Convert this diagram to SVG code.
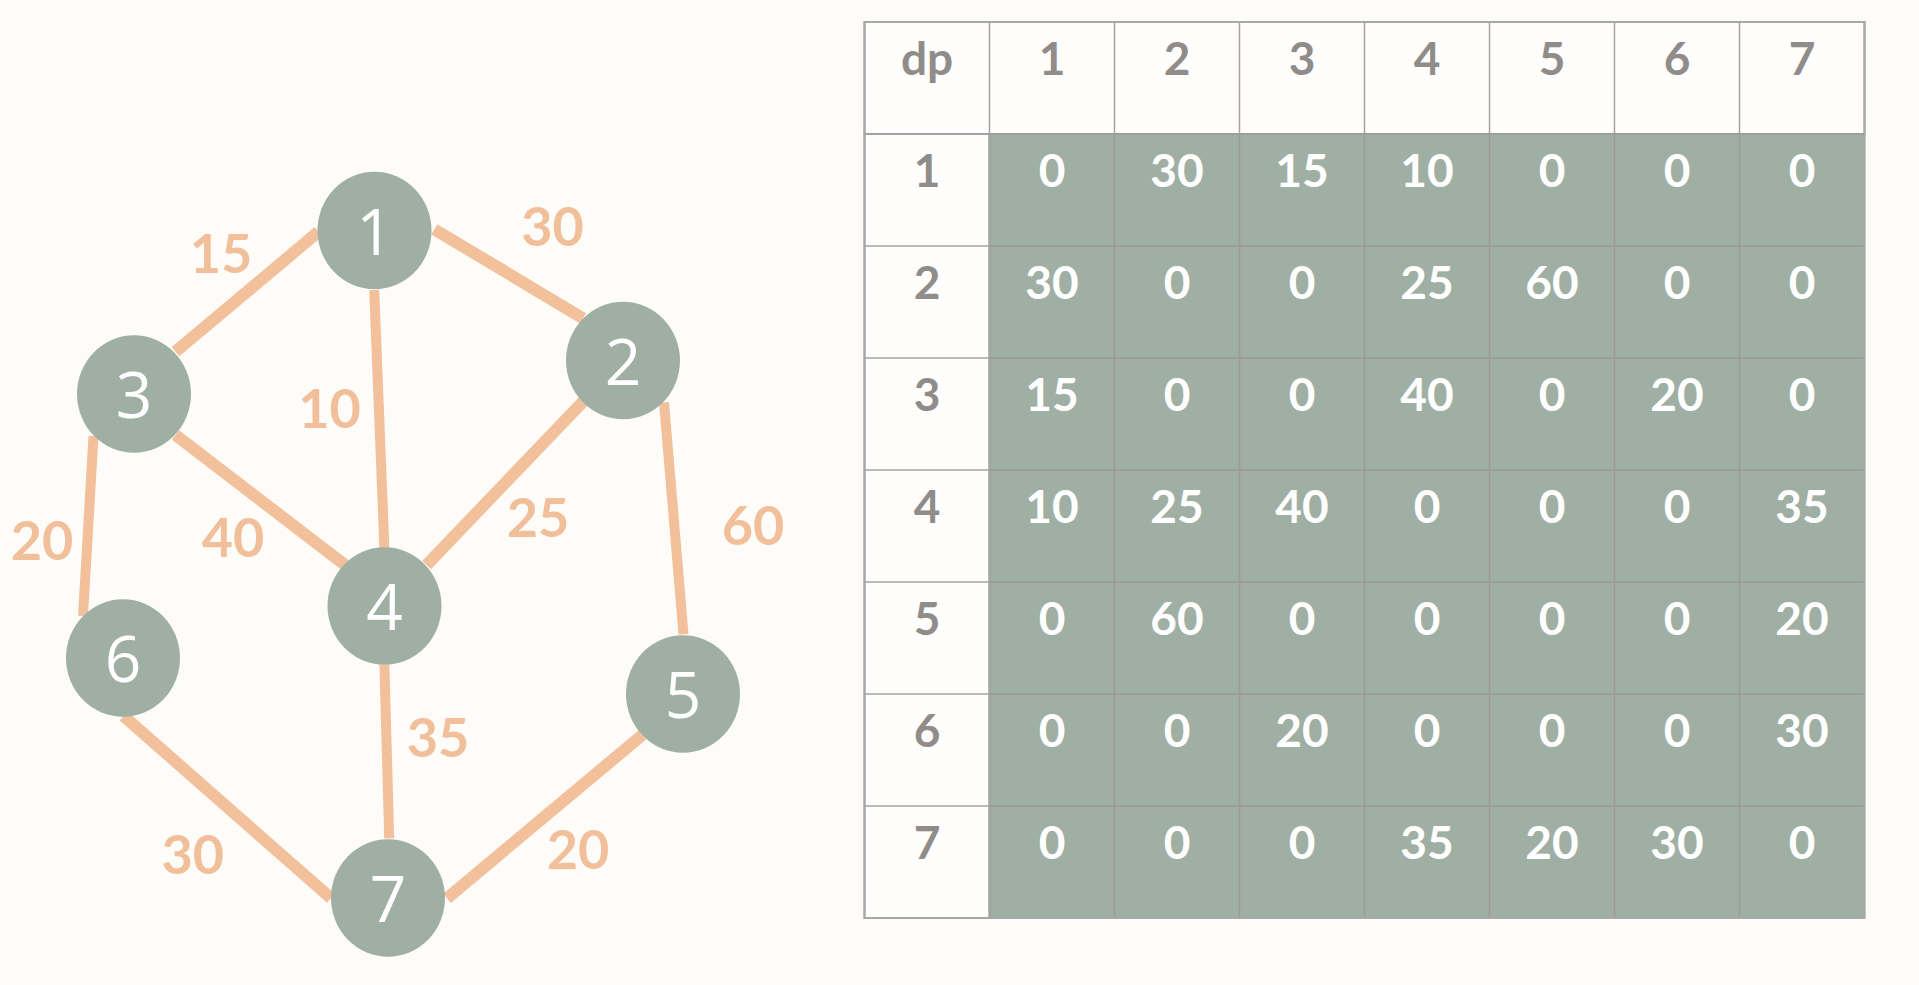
<svg xmlns="http://www.w3.org/2000/svg" width="1919" height="985" viewBox="0 0 1919 985">
<style>
.edge{stroke:#f2c19c;stroke-width:10;stroke-linecap:butt;fill:none}
.diag{stroke-width:12}
.node{fill:#a0afa4}
.nlab{font-family:"Open Sans","DejaVu Sans",sans-serif;font-size:64px;fill:#ffffff;text-anchor:middle}
.elab{font-family:Lato,"DejaVu Sans",sans-serif;font-weight:700;font-size:54px;fill:#f1c09b;text-anchor:middle}
.hd{fill:#fffefc;stroke:#a3a3a3;stroke-width:2}
.cell{fill:#a0afa4;stroke:#999a99;stroke-width:1.5}
.ht{font-family:Lato,"DejaVu Sans",sans-serif;font-weight:700;font-size:46px;fill:#8f8c89;text-anchor:middle}
.ct{font-family:Lato,"DejaVu Sans",sans-serif;font-weight:700;font-size:46px;fill:#ffffff;text-anchor:middle}
</style>
<rect width="1919" height="985" fill="#fdfcf9"/>
<g id="connectors">
<line class="edge diag" x1="318.5" y1="231.7" x2="175.5" y2="351.7"/>
<line class="edge diag" x1="434.3" y1="229.3" x2="583" y2="318.3"/>
<line class="edge" x1="374.2" y1="290" x2="384.4" y2="548"/>
<line class="edge diag" x1="175.5" y1="435" x2="345" y2="565"/>
<line class="edge diag" x1="584" y1="400.7" x2="426.6" y2="565"/>
<line class="edge" x1="93.5" y1="436" x2="83" y2="616"/>
<line class="edge" x1="664" y1="402.3" x2="683.5" y2="634.3"/>
<line class="edge" x1="384.4" y1="664.7" x2="389.2" y2="838.3"/>
<line class="edge diag" x1="123.6" y1="716" x2="331" y2="898.3"/>
<line class="edge diag" x1="642.3" y1="735" x2="447" y2="898.3"/>
</g>
<g id="edge-labels">
<text class="elab" x="221" y="273">15</text>
<text class="elab" x="552.5" y="246">30</text>
<text class="elab" x="329.6" y="428">10</text>
<text class="elab" x="42" y="560">20</text>
<text class="elab" x="233" y="557">40</text>
<text class="elab" x="538" y="537">25</text>
<text class="elab" x="753" y="545">60</text>
<text class="elab" x="438" y="757">35</text>
<text class="elab" x="192.7" y="874">30</text>
<text class="elab" x="578" y="869">20</text>
</g>
<g id="node1"><ellipse class="node" cx="374.5" cy="230.5" rx="57" ry="58.8"/><text class="nlab" x="374.5" y="254.5">1</text></g>
<g id="node2"><ellipse class="node" cx="623" cy="360.5" rx="57" ry="58.8"/><text class="nlab" x="623" y="384.5">2</text></g>
<g id="node3"><ellipse class="node" cx="134" cy="394" rx="57" ry="58.8"/><text class="nlab" x="134" y="418">3</text></g>
<g id="node4"><ellipse class="node" cx="384.5" cy="606" rx="57" ry="58.8"/><text class="nlab" x="384.5" y="630">4</text></g>
<g id="node5"><ellipse class="node" cx="683" cy="694" rx="57" ry="58.8"/><text class="nlab" x="683" y="718">5</text></g>
<g id="node6"><ellipse class="node" cx="123" cy="658" rx="57" ry="58.8"/><text class="nlab" x="123" y="682">6</text></g>
<g id="node7"><ellipse class="node" cx="388" cy="898" rx="57" ry="58.8"/><text class="nlab" x="388" y="922">7</text></g>
<g id="table">
<rect class="hd" x="864.5" y="22" width="1000" height="112"/>
<rect class="hd" x="864.5" y="134" width="125" height="784"/>
<rect class="cell" x="989.5" y="134" width="875" height="784"/>
<g stroke="#a3a3a3" stroke-width="1.5">
<line x1="989.5" y1="22" x2="989.5" y2="918"/>
<line x1="1114.5" y1="22" x2="1114.5" y2="134"/>
<line x1="1239.5" y1="22" x2="1239.5" y2="134"/>
<line x1="1364.5" y1="22" x2="1364.5" y2="134"/>
<line x1="1489.5" y1="22" x2="1489.5" y2="134"/>
<line x1="1614.5" y1="22" x2="1614.5" y2="134"/>
<line x1="1739.5" y1="22" x2="1739.5" y2="134"/>
<line x1="864.5" y1="246" x2="989.5" y2="246"/>
<line x1="864.5" y1="358" x2="989.5" y2="358"/>
<line x1="864.5" y1="470" x2="989.5" y2="470"/>
<line x1="864.5" y1="582" x2="989.5" y2="582"/>
<line x1="864.5" y1="694" x2="989.5" y2="694"/>
<line x1="864.5" y1="806" x2="989.5" y2="806"/>
</g>
<g stroke="#999a99" stroke-width="1.5">
<line x1="1114.5" y1="134" x2="1114.5" y2="918"/>
<line x1="1239.5" y1="134" x2="1239.5" y2="918"/>
<line x1="1364.5" y1="134" x2="1364.5" y2="918"/>
<line x1="1489.5" y1="134" x2="1489.5" y2="918"/>
<line x1="1614.5" y1="134" x2="1614.5" y2="918"/>
<line x1="1739.5" y1="134" x2="1739.5" y2="918"/>
<line x1="989.5" y1="246" x2="1864.5" y2="246"/>
<line x1="989.5" y1="358" x2="1864.5" y2="358"/>
<line x1="989.5" y1="470" x2="1864.5" y2="470"/>
<line x1="989.5" y1="582" x2="1864.5" y2="582"/>
<line x1="989.5" y1="694" x2="1864.5" y2="694"/>
<line x1="989.5" y1="806" x2="1864.5" y2="806"/>
</g>
<rect x="864.5" y="22" width="1000" height="896" fill="none" stroke="#a8a8a8" stroke-width="2"/>
<g>
<text class="ht" x="927" y="75" font-weight="600">dp</text>
<text class="ht" x="1052" y="75">1</text><text class="ht" x="1177" y="75">2</text><text class="ht" x="1302" y="75">3</text><text class="ht" x="1427" y="75">4</text><text class="ht" x="1552" y="75">5</text><text class="ht" x="1677" y="75">6</text><text class="ht" x="1802" y="75">7</text>
<text class="ht" x="927" y="187">1</text><text class="ht" x="927" y="299">2</text><text class="ht" x="927" y="411">3</text><text class="ht" x="927" y="523">4</text><text class="ht" x="927" y="635">5</text><text class="ht" x="927" y="747">6</text><text class="ht" x="927" y="859">7</text>
</g>
<g>
<text class="ct" x="1052" y="187">0</text><text class="ct" x="1177" y="187">30</text><text class="ct" x="1302" y="187">15</text><text class="ct" x="1427" y="187">10</text><text class="ct" x="1552" y="187">0</text><text class="ct" x="1677" y="187">0</text><text class="ct" x="1802" y="187">0</text>
<text class="ct" x="1052" y="299">30</text><text class="ct" x="1177" y="299">0</text><text class="ct" x="1302" y="299">0</text><text class="ct" x="1427" y="299">25</text><text class="ct" x="1552" y="299">60</text><text class="ct" x="1677" y="299">0</text><text class="ct" x="1802" y="299">0</text>
<text class="ct" x="1052" y="411">15</text><text class="ct" x="1177" y="411">0</text><text class="ct" x="1302" y="411">0</text><text class="ct" x="1427" y="411">40</text><text class="ct" x="1552" y="411">0</text><text class="ct" x="1677" y="411">20</text><text class="ct" x="1802" y="411">0</text>
<text class="ct" x="1052" y="523">10</text><text class="ct" x="1177" y="523">25</text><text class="ct" x="1302" y="523">40</text><text class="ct" x="1427" y="523">0</text><text class="ct" x="1552" y="523">0</text><text class="ct" x="1677" y="523">0</text><text class="ct" x="1802" y="523">35</text>
<text class="ct" x="1052" y="635">0</text><text class="ct" x="1177" y="635">60</text><text class="ct" x="1302" y="635">0</text><text class="ct" x="1427" y="635">0</text><text class="ct" x="1552" y="635">0</text><text class="ct" x="1677" y="635">0</text><text class="ct" x="1802" y="635">20</text>
<text class="ct" x="1052" y="747">0</text><text class="ct" x="1177" y="747">0</text><text class="ct" x="1302" y="747">20</text><text class="ct" x="1427" y="747">0</text><text class="ct" x="1552" y="747">0</text><text class="ct" x="1677" y="747">0</text><text class="ct" x="1802" y="747">30</text>
<text class="ct" x="1052" y="859">0</text><text class="ct" x="1177" y="859">0</text><text class="ct" x="1302" y="859">0</text><text class="ct" x="1427" y="859">35</text><text class="ct" x="1552" y="859">20</text><text class="ct" x="1677" y="859">30</text><text class="ct" x="1802" y="859">0</text>
</g>
</g>
</svg>
